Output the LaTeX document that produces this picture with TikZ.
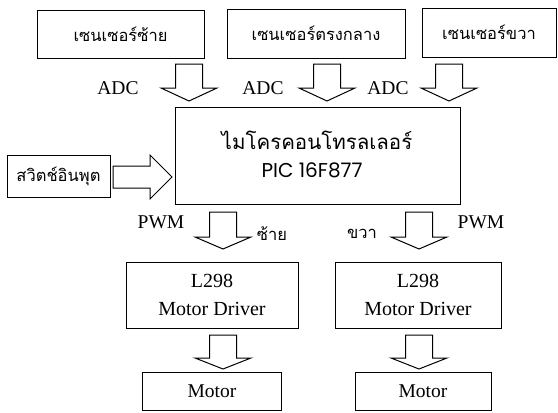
\documentclass[tikz,border=0pt]{standalone}
\usepackage{fontspec}
\setmainfont{Liberation Serif}
\newfontfamily\thaifont[Script=Thai]{Loma}
\newfontfamily\picfont{Poppins}
\newcommand\dnblock[4]{% cx, top, head base, tip
  \draw[blk] ({#1-13.5},#2) -- ({#1+13.5},#2) -- ({#1+13.5},#3) -- ({#1+28},#3)
    -- (#1,#4) -- ({#1-28},#3) -- ({#1-13.5},#3) -- cycle;}
\begin{document}
\begin{tikzpicture}[x=1pt,y=-1pt,
  box/.style={draw, line width=1pt, inner sep=0pt, align=center},
  blk/.style={draw, line width=1pt, fill=white, line join=miter},
  lbl/.style={font=\fontsize{19.5}{20}\selectfont, inner sep=0pt},
  th/.style={font=\thaifont\fontsize{16.5}{20}\selectfont},
]
\useasboundingbox[fill=white] (0,0) rectangle (558,413);

% sensors
\node[box, th, minimum width=167pt, minimum height=48pt] (sL) at (120.5,34) {เซนเซอร์ซ้าย};
\node[box, th, minimum width=178pt, minimum height=49pt] (sC) at (316,33.5) {เซนเซอร์ตรงกลาง};
\node[box, th, minimum width=134pt, minimum height=49pt] (sR) at (489,32.5) {เซนเซอร์ขวา};

% microcontroller
\node[box, minimum width=285pt, minimum height=97pt] (mcu) at (317.5,155.5) {};
\node[font=\thaifont\fontsize{20.5}{24}\selectfont, inner sep=0pt] (mcuT) at (317,140) {ไมโครคอนโทรลเลอร์};
\node[font=\picfont\fontsize{20}{24}\selectfont, inner sep=0pt] (mcuP) at (312,170) {PIC 16F877};

% switch
\node[box, th, font=\thaifont\fontsize{16.5}{20}\selectfont, minimum width=103pt, minimum height=42pt] (sw) at (58.5,176) {สวิตช์อินพุต};

% drivers
\node[box, lbl, minimum width=172pt, minimum height=66pt, font=\fontsize{20}{28}\selectfont] (d1) at (212,295) {L298\\Motor Driver};
\node[box, lbl, minimum width=166pt, minimum height=66pt, font=\fontsize{20}{28}\selectfont] (d2) at (418,295) {L298\\Motor Driver};

% motors
\node[box, lbl, minimum width=139pt, minimum height=38pt] (m1) at (212,391) {Motor};
\node[box, lbl, minimum width=136pt, minimum height=38pt] (m2) at (423,391) {Motor};

% block arrows
\dnblock{189}{64}{88}{101}
\dnblock{327}{64}{88}{101}
\dnblock{449}{64}{88}{101}
\dnblock{223}{212}{237}{249}
\dnblock{419}{212}{237}{249}
\dnblock{223}{335}{358}{369}
\dnblock{419}{335}{358}{369}
\draw[blk] (113,166) -- (150,166) -- (150,155) -- (172,177) -- (150,199) -- (150,188) -- (113,188) -- cycle;

% labels
\node[lbl] (adc1) at (118,88) {ADC};
\node[lbl] (adc2) at (263,88) {ADC};
\node[lbl] (adc3) at (388,88) {ADC};
\node[lbl] (pwm1) at (161,222) {PWM};
\node[lbl] (pwm2) at (481,222) {PWM};
\node[th, inner sep=0pt] (left) at (272,234) {ซ้าย};
\node[th, inner sep=0pt] (right) at (362,234) {ขวา};
\end{tikzpicture}
\end{document}
